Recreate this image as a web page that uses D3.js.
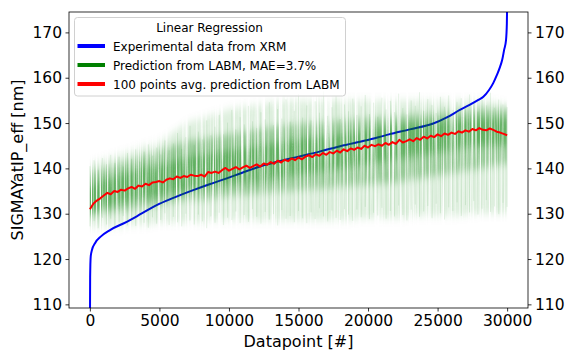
<!DOCTYPE html>
<html>
<head>
<meta charset="utf-8">
<script src="https://cdn.jsdelivr.net/npm/d3@7"></script>
<style>
body{margin:0;background:#fff}
text{font-family:"DejaVu Sans",sans-serif;fill:#000}
</style>
</head>
<body>
<svg id="chart" width="576" height="360"></svg>
<script>
// tick labels
var xTicks = [0,5000,10000,15000,20000,25000,30000]
var yTicks = [110,120,130,140,150,160,170]

// experimental data from XRM (blue)
var blueX = [0,20,60,150,370,800,1450,2650,3700,4800,6000,7430,8600,9840,11000,12230,13500,15000,16500,18000,19900,21500,23000,24690,25700,26600,27300,27930,28290,28700,29000,29250,29490,29650,29780,29920,29980,30010]
var blueY = [100,116,120.5,122,123.5,125,126.4,128.2,130,131.9,133.5,135.2,136.5,137.8,139.1,140.4,141.5,142.6,143.7,144.9,146.2,147.5,148.6,149.9,151.3,152.9,154,155.1,155.8,157.3,158.8,160.5,162.4,164,166.1,168.3,172,178]

// 100 points avg prediction (red), one value every 250 datapoints
var redY = [131.0,132.2,132.9,133.4,134.0,134.6,134.3,135.0,
  134.8,135.3,135.1,135.6,135.9,135.5,136.2,136.0,
  136.6,136.3,136.9,137.0,137.2,136.9,137.5,137.8,
  137.6,138.2,137.9,138.3,138.1,138.6,138.4,138.3,
  138.6,138.2,139.2,139.0,139.3,139.0,139.6,140.1,
  139.5,139.9,140.3,139.8,140.2,140.6,140.1,140.5,
  140.9,140.4,141.1,140.8,141.4,141.0,141.7,141.3,
  141.9,141.6,142.2,141.8,142.4,142.0,142.6,142.9,
  142.5,143.1,142.8,143.4,143.0,143.6,143.3,143.9,
  143.5,144.2,143.8,144.4,144.1,144.6,144.3,145.0,
  144.6,145.2,144.9,145.3,145.0,145.6,145.2,145.8,
  145.4,146.3,145.7,146.0,146.4,146.0,146.7,146.3,
  147.0,146.6,147.2,146.9,147.5,147.1,147.7,147.4,
  147.9,147.6,148.2,147.9,148.4,148.1,148.7,148.4,
  148.9,148.5,148.4,148.8,148.5,148.1,147.9,147.6,147.3]

// spread of the LABM predictions (green)
var bandX   = [0,1000,2000,3000,4000,5000,6000,7000,8000,9000,10000,12000,14000,16000,18000,20000,22000,24000,26000,28000,30000]
var outerHi = [141,142,143,144,145,146,148,150,151,152,153,154,155,155,155,155,155,155,155,155,154]
var outerLo = [127,127,127,127.5,127.5,128,128,128,128,128.5,128.5,128.5,128.5,128.5,128.5,129,129,129.5,129.5,130,130]
var midHi   = [139,140,141,142,143,144,145,146,146.5,147,147.5,148.5,149.5,150,150.5,151,151.5,152,152.5,153,153]
var midLo   = [129.5,130,130.5,131,131.5,132,132.5,133,133,133.5,134,134.5,135,135.5,136,136.5,137,138,139,140,141]
var coreHi  = [136,137.5,138.5,139.5,140.5,141,141.5,142.5,143,143.5,144,145,146,147,147.5,148.5,149.5,150,150.5,151,151]
var coreLo  = [130,131.5,132,133,133.5,134,134.5,135,135.5,136,136.5,137,138,139,140,141,142,143,144,145,145]

// single prediction streaks, one every 300 datapoints
var streakHi = [140.5,141.8,139.6,142.3,140.9,143.0,141.2,142.6,140.4,143.4,
  142.1,144.2,141.5,143.7,145.3,142.8,144.6,143.1,146.2,144.0,
  145.5,147.8,144.3,146.9,149.4,145.2,148.1,146.4,150.6,147.3,
  149.2,151.8,147.5,150.1,152.9,148.6,151.3,149.7,153.8,150.4,
  148.9,152.4,150.8,154.6,149.5,153.1,151.0,155.2,150.3,152.7,
  156.4,151.2,153.9,150.6,154.8,152.3,157.0,151.6,153.5,155.9,
  150.9,154.1,152.6,155.4,151.8,153.7,156.2,152.0,154.5,151.4,
  155.6,153.0,154.9,152.4,156.5,153.3,151.9,155.0,153.8,156.8,
  152.7,155.3,154.0,152.2,155.8,153.6,156.1,152.9,154.7,155.5,
  153.2,156.3,154.4,152.5,155.1,153.9,156.7,153.4,155.2,154.1,153.5]
var streakLo = [127.2,128.4,126.8,129.1,127.6,128.9,126.9,128.2,129.5,127.4,
  128.7,127.3,129.6,128.0,126.9,129.2,127.8,128.6,130.1,127.5,
  129.3,128.1,127.2,130.0,128.5,127.6,129.8,128.3,126.8,129.4,
  128.0,130.2,127.5,129.1,128.6,130.5,127.9,129.7,128.2,131.0,
  129.3,127.8,130.4,128.7,129.9,127.4,130.8,128.9,129.5,128.1,
  130.6,129.0,127.9,130.3,128.8,131.2,129.4,128.3,130.7,129.1,
  128.6,131.0,129.8,128.4,130.9,129.2,131.5,128.8,130.2,129.6,
  131.3,128.9,130.6,129.4,131.8,129.7,128.5,130.9,132.0,129.3,
  130.5,131.7,129.0,132.2,130.1,128.7,131.4,130.6,132.5,129.5,
  131.9,130.3,132.8,129.8,131.1,133.0,130.4,131.6,129.9,132.4,131.5]

var legendItems = [
    {name:"Experimental data from XRM", color:"#0000ff"},
    {name:"Prediction from LABM, MAE=3.7%", color:"#008000"},
    {name:"100 points avg. prediction from LABM", color:"#ff0000"}
]

var margins = {left:69,right:48,top:12,bottom:52}
var screen = {width:576,height:360}
var graph = {
    width:screen.width-margins.left-margins.right,
    height:screen.height-margins.top-margins.bottom
}

var svg = d3.select("#chart")

var xScale = d3.scaleLinear()
    .domain([-1500,31500])
    .range([0,graph.width])
var yScale = d3.scaleLinear()
    .domain([109.2,174.5])
    .range([graph.height,0])

var defs = svg.append("defs")
defs.append("clipPath")
    .attr("id","plotClip")
    .append("rect")
    .attr("width",graph.width)
    .attr("height",graph.height)

// vertical streak texture for the overlapping predictions
var filt = defs.append("filter")
    .attr("id","streaky")
    .attr("filterUnits","userSpaceOnUse")
    .attr("x",0).attr("y",0)
    .attr("width",graph.width).attr("height",graph.height)
filt.append("feGaussianBlur")
    .attr("in","SourceGraphic")
    .attr("stdDeviation","0 4")
    .attr("result","soft")
filt.append("feTurbulence")
    .attr("type","fractalNoise")
    .attr("baseFrequency","0.55 0.006")
    .attr("numOctaves",2)
    .attr("seed",7)
    .attr("result","noise")
filt.append("feColorMatrix")
    .attr("in","noise")
    .attr("type","matrix")
    .attr("values","0 0 0 0 0  0 0 0 0 0  0 0 0 0 0  3.2 0 0 0 -0.8")
    .attr("result","mask")
filt.append("feComposite")
    .attr("in","soft")
    .attr("in2","mask")
    .attr("operator","in")

var target = svg.append("g")
    .attr("transform","translate("+margins.left+","+margins.top+")")

var plot = target.append("g")
    .attr("clip-path","url(#plotClip)")

// blue line first, green is drawn over it
var blueLine = d3.line()
    .x(function(d){return xScale(d[0])})
    .y(function(d){return yScale(d[1])})
    .curve(d3.curveMonotoneX)
plot.append("path")
    .datum(d3.zip(blueX,blueY))
    .attr("d",blueLine)
    .attr("fill","none")
    .attr("stroke","#0000ff")
    .attr("stroke-width",2)

var greens = plot.append("g")
    .attr("filter","url(#streaky)")

var drawBand = function(hi,lo,opacity)
{
    var area = d3.area()
        .x(function(d,i){return xScale(bandX[i])})
        .y0(function(d,i){return yScale(lo[i])})
        .y1(function(d,i){return yScale(hi[i])})
        .curve(d3.curveMonotoneX)
    greens.append("path")
        .datum(bandX)
        .attr("d",area)
        .attr("fill","#008000")
        .attr("fill-opacity",opacity)
}
drawBand(outerHi,outerLo,0.13)
drawBand(midHi,midLo,0.3)
drawBand(coreHi,coreLo,0.34)

plot.append("g")
    .selectAll("line")
    .data(streakHi)
    .enter()
    .append("line")
    .attr("x1",function(d,i){return xScale(i*300)})
    .attr("x2",function(d,i){return xScale(i*300)})
    .attr("y1",function(d){return yScale(d)})
    .attr("y2",function(d,i){return yScale(streakLo[i])})
    .attr("stroke","#008000")
    .attr("stroke-opacity",0.1)
    .attr("stroke-width",1)

var redLine = d3.line()
    .x(function(d,i){return xScale(i*250)})
    .y(function(d){return yScale(d)})
plot.append("path")
    .datum(redY)
    .attr("d",redLine)
    .attr("fill","none")
    .attr("stroke","#ff0000")
    .attr("stroke-width",2)
    .attr("stroke-linejoin","round")

// axes
var xAxis = d3.axisBottom(xScale).tickValues(xTicks).tickSize(3.5).tickPadding(3.5).tickFormat(d3.format("d"))
var yAxisL = d3.axisLeft(yScale).tickValues(yTicks).tickSize(3.5).tickPadding(3.5)
var yAxisR = d3.axisRight(yScale).tickValues(yTicks).tickSize(3.5).tickPadding(3.5)

var gx = target.append("g")
    .attr("transform","translate(0,"+graph.height+")")
    .call(xAxis)
var gl = target.append("g").call(yAxisL)
var gr = target.append("g")
    .attr("transform","translate("+graph.width+",0)")
    .call(yAxisR)

;[gx,gl,gr].forEach(function(g){
    g.select(".domain").remove()
    g.selectAll(".tick line").attr("stroke","#000").attr("stroke-width",0.8)
    g.selectAll(".tick text")
        .attr("font-size",15.5)
        .attr("font-family","DejaVu Sans")
        .attr("fill","#000")
})

target.append("rect")
    .attr("width",graph.width)
    .attr("height",graph.height)
    .attr("fill","none")
    .attr("stroke","#000")
    .attr("stroke-width",0.8)

// labels
svg.append("text")
    .text("Datapoint [#]")
    .attr("text-anchor","middle")
    .attr("font-size",16)
    .attr("x",margins.left+graph.width/2)
    .attr("y",347)

svg.append("g")
    .attr("transform","translate(23,"+(margins.top+graph.height/2)+")")
    .append("text")
    .text("SIGMAYatIP_eff [nm]")
    .attr("text-anchor","middle")
    .attr("font-size",16)
    .attr("transform","rotate(270)")

// legend
var legend = svg.append("g")
    .attr("transform","translate(74.5,17.5)")
legend.append("rect")
    .attr("width",271)
    .attr("height",78.5)
    .attr("rx",3)
    .attr("fill","#fff")
    .attr("fill-opacity",0.8)
    .attr("stroke","#d0d0d0")
    .attr("stroke-width",1)
legend.append("text")
    .text("Linear Regression")
    .attr("text-anchor","middle")
    .attr("font-size",12)
    .attr("x",135)
    .attr("y",14)

var entries = legend.selectAll("g.entry")
    .data(legendItems)
    .enter()
    .append("g")
    .classed("entry",true)
    .attr("transform",function(d,i){return "translate(0,"+(28.5+i*19)+")"})
entries.append("line")
    .attr("x1",3)
    .attr("x2",30.5)
    .attr("stroke",function(d){return d.color})
    .attr("stroke-width",4)
entries.append("text")
    .text(function(d){return d.name})
    .attr("x",38.5)
    .attr("y",4.5)
    .attr("font-size",12)
</script>
</body>
</html>
